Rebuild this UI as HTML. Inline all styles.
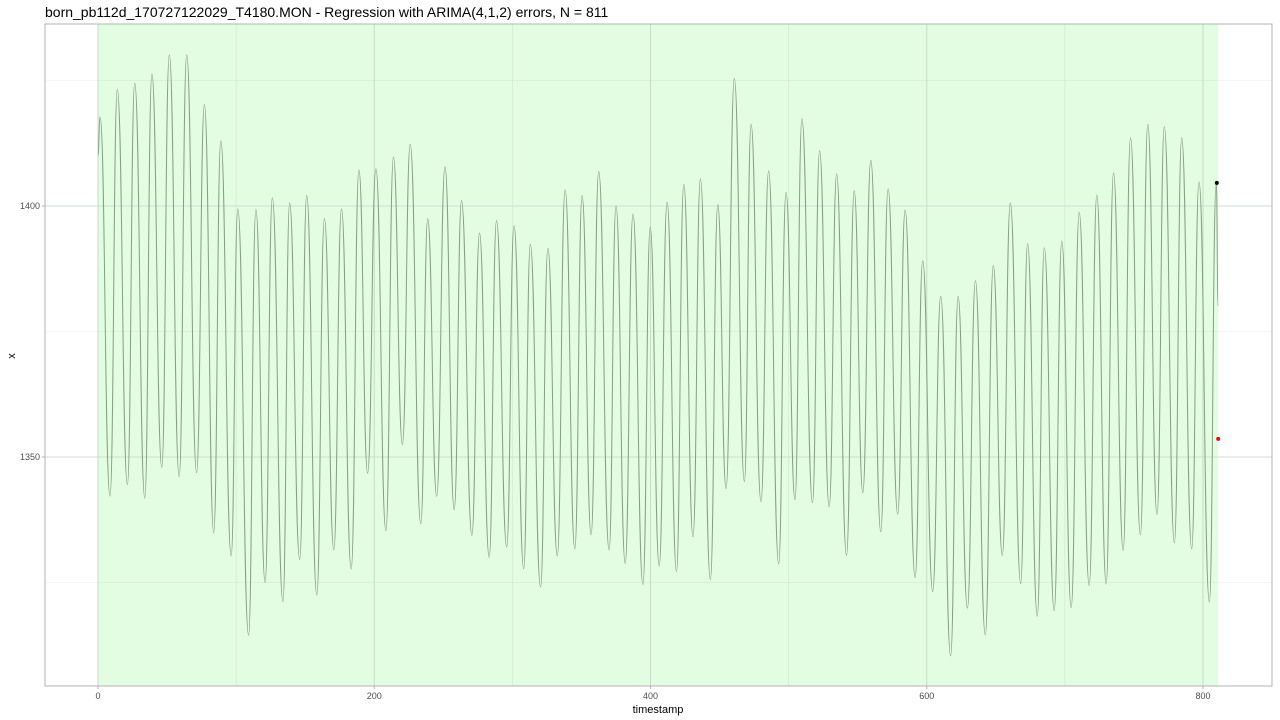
<!DOCTYPE html>
<html><head><meta charset="utf-8"><style>
body{margin:0;background:#fff;width:1280px;height:720px;overflow:hidden;font-family:"Liberation Sans",sans-serif}
svg{display:block}
</style></head><body>
<svg id="chart" width="1280" height="720" xmlns="http://www.w3.org/2000/svg">
<text x="45" y="17" font-size="14" fill="#000">born_pb112d_170727122029_T4180.MON - Regression with ARIMA(4,1,2) errors, N = 811</text>
<g id="plot"></g>
<text x="658" y="713" font-size="11" text-anchor="middle" fill="#000">timestamp</text>
<text x="15" y="356" font-size="11" text-anchor="middle" fill="#000" transform="rotate(-90 15 356)">x</text>
</svg>
<script>
const xs=[0,1.5,8.7,14,21.3,26.6,33.9,39,46.2,51.6,58.8,64.2,71.4,77,83.8,88.9,96.4,101.2,109,114.3,121,126.2,133.9,138.7,146,151.1,158.4,163.9,170.7,176.3,183.3,188.9,195.2,201.2,208.4,213.9,220.4,226,233.7,238.7,245.2,251.2,257.9,263.2,270.7,276.2,283.2,288.5,295.9,301.2,308.2,313,320.4,325.7,332.5,338.2,345.2,350.5,357,362.5,370,375,381.7,387.3,394.5,399.8,406.3,412,418.8,424.1,430.8,436.1,443.4,448.7,454.7,460.7,468,472.8,480,485.5,492.8,498.1,504.6,509.6,517.3,522.4,529.4,534.7,541.9,547.5,553.7,559.5,566.7,572,579,584.3,591.6,597.1,604.3,610.1,617.3,622.7,629.4,635.2,642.4,648.2,654.7,660.5,668,673,680,685.1,692.3,697.8,704.6,710.4,717.6,723.1,729.9,735.2,742.2,747.5,754.7,760,766.7,772,779.3,784.6,791.8,797.1,804.6,809.6,811];
const values=[1410,1417.7,1342.2,1423.2,1344.5,1424.5,1341.8,1426.3,1347.9,1430.1,1346.1,1430.1,1346.9,1420.2,1334.9,1413,1330.3,1399.4,1314.5,1399.3,1325,1401.6,1321.2,1400.6,1329.6,1402.1,1322.5,1397.5,1331.5,1399.4,1327.7,1407.2,1346.8,1407.4,1335.3,1409.7,1352.5,1412.3,1336.7,1397.5,1342.2,1407.8,1339.5,1401.1,1334.4,1394.6,1330,1397.1,1332.1,1396.1,1327.7,1392.4,1324.1,1391.6,1330.3,1403.2,1331.7,1402.1,1334.5,1406.9,1331.5,1400,1328.8,1398.4,1324.6,1395.8,1328.3,1400.8,1327.2,1404.3,1334.1,1405.4,1325.6,1400.3,1343.7,1425.4,1345.1,1416.3,1341.1,1407,1328.7,1402.7,1341.5,1417.4,1340.9,1411,1340.1,1406.4,1330.4,1403,1342.9,1409.1,1335.1,1403.4,1338.6,1399.2,1326,1389.1,1323.2,1382,1310.4,1382,1319.9,1385.1,1314.6,1388.1,1330.4,1400.6,1324.8,1392.5,1318.3,1391.7,1319.4,1393,1320,1398.7,1324.4,1402.2,1324.7,1406.6,1331.4,1413.6,1334.5,1416.3,1338.5,1415.8,1332.9,1413.6,1331.7,1404.8,1321.1,1404.6,1380];
const xTicks=[0,200,400,600,800];
const xMinor=[100,300,500,700];
const yTicks=[1350,1400];
const yMinor=[1325,1375,1425];
const fitPoint=[810,1404.6];
const forecastPoint=[811,1353.6];
const regionX=[0,811];

const NS="http://www.w3.org/2000/svg";
const L=45,R=1272,T=24,B=686;
function sx(v){return 98+(v-0)*(1203-98)/800;}
function sy(v){return 206-(v-1400)*(457-206)/(1350-1400)*-1;}
const g=document.getElementById('plot');
function mk(tag,attrs,parent){const e=document.createElementNS(NS,tag);for(const k in attrs)e.setAttribute(k,attrs[k]);(parent||g).appendChild(e);return e;}

const bg=mk('rect',{x:L,y:T,width:R-L,height:B-T,fill:'#fff'});


yMinor.forEach(v=>{const l=mk('line',{x1:L,x2:R,y1:sy(v),y2:sy(v),stroke:'#ededed','stroke-width':0.6});});
yTicks.forEach(v=>{const l=mk('line',{x1:L,x2:R,y1:sy(v),y2:sy(v),stroke:'#dedede','stroke-width':1});});
const reg=mk('rect',{x:sx(regionX[0]),y:T,width:sx(regionX[1])-sx(regionX[0]),height:B-T,fill:'#e3fde3'});


yMinor.forEach(v=>{const l=mk('line',{x1:sx(regionX[0]),x2:sx(regionX[1]),y1:sy(v),y2:sy(v),stroke:'#cfe3cf','stroke-width':0.6});});
yTicks.forEach(v=>{const l=mk('line',{x1:L,x2:R,y1:sy(v),y2:sy(v),stroke:'#d0dcd0','stroke-width':1});});
xMinor.forEach(v=>{const l=mk('line',{x1:sx(v),x2:sx(v),y1:T,y2:B,stroke:'#cfe3cf','stroke-width':0.6});});
xTicks.forEach(v=>{const l=mk('line',{x1:sx(v),x2:sx(v),y1:T,y2:B,stroke:'#c6dcc6','stroke-width':1});});

let d='M'+sx(xs[0]).toFixed(1)+','+sy(values[0]).toFixed(1);
for(let i=1;i<xs.length;i++){
  const x0=sx(xs[i-1]),y0=sy(values[i-1]),x1=sx(xs[i]),y1=sy(values[i]),h=(x1-x0)/2;
  d+=' C'+(x0+h).toFixed(1)+','+y0.toFixed(1)+' '+(x1-h).toFixed(1)+','+y1.toFixed(1)+' '+x1.toFixed(1)+','+y1.toFixed(1);
}
const line=mk('path',{d:d,fill:'none',stroke:'#849f84','stroke-width':1});


const fp=mk('circle',{cx:sx(fitPoint[0]),cy:sy(fitPoint[1]),r:2,fill:'#000'});


const rp=mk('circle',{cx:sx(forecastPoint[0]),cy:sy(forecastPoint[1]),r:2,fill:'#f00'});



const border=mk('rect',{x:L,y:T,width:R-L,height:B-T,fill:'none',stroke:'#b3b3b3','stroke-width':1});



xTicks.forEach(v=>{
  const tk=mk('line',{x1:sx(v),x2:sx(v),y1:B,y2:B+3,stroke:'#b3b3b3'});
  
  
  const t=mk('text',{x:sx(v),y:B+13,'font-size':9,'text-anchor':'middle',fill:'#4d4d4d'});
  t.textContent=v;
  
  
});
yTicks.forEach(v=>{
  const tk=mk('line',{x1:L-3,x2:L,y1:sy(v),y2:sy(v),stroke:'#b3b3b3'});
  
  
  const t=mk('text',{x:L-5,y:sy(v)+3,'font-size':9,'text-anchor':'end',fill:'#4d4d4d'});
  t.textContent=v;
  
  
});
</script>
</body></html>
